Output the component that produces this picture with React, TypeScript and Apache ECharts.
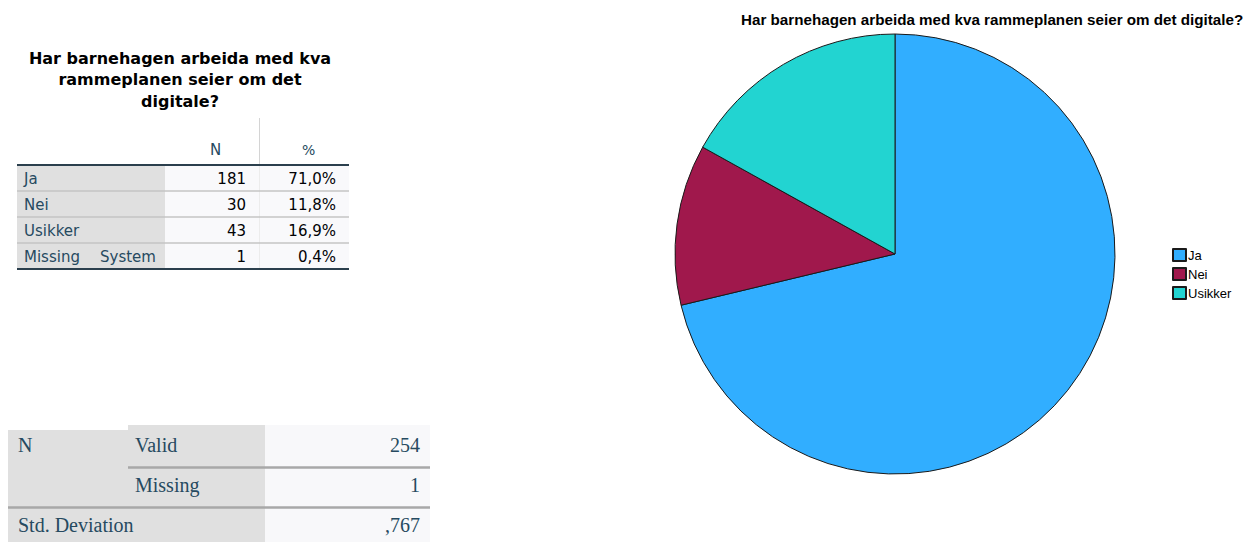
import React, { useEffect, useRef } from "react";
import * as echarts from "echarts";

// ---- data ----
const chartTitle = "Har barnehagen arbeida med kva rammeplanen seier om det digitale?";
const tableTitleLines = ["Har barnehagen arbeida med kva", "rammeplanen seier om det", "digitale?"];
const categories = ["Ja", "Nei", "Usikker"];
const counts = [181, 30, 43];
const percentLabels = ["71,0%", "11,8%", "16,9%"];
const missingLabel = ["Missing", "System"];
const missingCount = 1;
const missingPercent = "0,4%";
const headerLabels = ["N", "%"];
const statRowLabels = ["N", "Std. Deviation"];
const statSubLabels = ["Valid", "Missing"];
const statValues = ["254", "1", ",767"];
const sliceColors = ["#31aeff", "#a0184c", "#22d4d1"];

const LABEL = "#264a60";
const DATA = "#010205";
const SANS = "DejaVu Sans";
const SERIF = "Liberation Serif";

function txt(x: number, y: number, text: string, opts: any = {}) {
  return {
    type: "text",
    silent: true,
    x,
    y,
    style: {
      text,
      fontFamily: opts.fontFamily || SANS,
      fontSize: opts.fontSize || 15,
      fontWeight: opts.fontWeight || "normal",
      fill: opts.fill || LABEL,
      textAlign: opts.align || "left",
      textVerticalAlign: "middle",
    },
  };
}
function rect(x: number, y: number, w: number, h: number, fill: string) {
  return { type: "rect", silent: true, shape: { x, y, width: w, height: h }, style: { fill } };
}
function line(x1: number, y1: number, x2: number, y2: number, stroke: string, lw = 1) {
  return { type: "line", silent: true, shape: { x1, y1, x2, y2 }, style: { stroke, lineWidth: lw } };
}

function buildGraphics() {
  const g: any[] = [];
  // ---- frequency table ----
  tableTitleLines.forEach((t, i) =>
    g.push(txt(180, 58 + i * 21.5, t, { fontWeight: "bold", fontSize: 16, fill: "#000", align: "center" }))
  );
  const x0 = 17, xL = 165, xN = 259, xR = 349, top = 165, rh = 26;
  const rows = categories.map((c, i) => ({ a: c, b: "", n: String(counts[i]), p: percentLabels[i] }));
  rows.push({ a: missingLabel[0], b: missingLabel[1], n: String(missingCount), p: missingPercent });
  g.push(rect(x0, top, xL - x0, rh * rows.length, "#e0e0e0"));
  g.push(rect(xL, top, xR - xL, rh * rows.length, "#f9f9fb"));
  g.push(line(xN + 0.5, 118, xN + 0.5, top, "#d4d4d4", 1));
  g.push(line(xN + 0.5, top, xN + 0.5, top + rh * rows.length, "#ececec", 1));
  g.push(txt(210, 150, headerLabels[0], { fontSize: 15 }));
  g.push(txt(302, 150, headerLabels[1], { fontSize: 14 }));
  rows.forEach((r, i) => {
    const cy = top + rh * i + rh / 2 + 1;
    if (i > 0) g.push(line(x0, top + rh * i, xR, top + rh * i, "#c4c4c4", 1.5));
    g.push(txt(24, cy, r.a));
    if (r.b) g.push(txt(100, cy, r.b));
    g.push(txt(246, cy, r.n, { align: "right", fill: DATA }));
    g.push(txt(336, cy, r.p, { align: "right", fill: DATA }));
  });
  g.push(line(x0, top, xR, top, "#2b3f4d", 2));
  g.push(line(x0, top + rh * rows.length, xR, top + rh * rows.length, "#2b3f4d", 2));

  // ---- statistics table ----
  g.push(rect(8, 430, 257, 112, "#e0e0e0"));
  g.push(rect(128, 425, 137, 5, "#e0e0e0"));
  g.push(rect(265, 425, 165, 117, "#f8f8fa"));
  g.push(line(128, 467.5, 430, 467.5, "#a8a8a8", 2.5));
  g.push(line(8, 507.5, 430, 507.5, "#a8a8a8", 2.5));
  const sf = { fontFamily: SERIF, fontSize: 20 };
  g.push(txt(18, 444.5, statRowLabels[0], sf));
  g.push(txt(135, 444.5, statSubLabels[0], sf));
  g.push(txt(420, 444.5, statValues[0], { ...sf, align: "right" }));
  g.push(txt(135, 484.5, statSubLabels[1], sf));
  g.push(txt(420, 484.5, statValues[1], { ...sf, align: "right" }));
  g.push(txt(18, 524.5, statRowLabels[1], sf));
  g.push(txt(420, 524.5, statValues[2], { ...sf, align: "right" }));
  return g;
}

export default function App() {
  const ref = useRef<HTMLDivElement>(null);
  useEffect(() => {
    if (!ref.current) return;
    const chart = echarts.init(ref.current, undefined, { renderer: "svg" });
    chart.setOption({
      animation: false,
      backgroundColor: "#ffffff",
      title: {
        text: chartTitle,
        left: 741,
        top: 12,
        padding: 0,
        textStyle: { fontFamily: "Liberation Sans", fontSize: 15.2, fontWeight: "bold", color: "#000" },
      },
      legend: {
        orient: "vertical",
        left: 1172,
        top: 248,
        padding: 0,
        icon: "rect",
        itemWidth: 13,
        itemHeight: 12,
        itemGap: 5,
        data: categories,
        textStyle: { fontFamily: "Liberation Sans", fontSize: 13, color: "#000", padding: [0, 0, 0, -3] },
      },
      series: [
        {
          type: "pie",
          center: [895, 254],
          radius: 220,
          startAngle: 90,
          clockwise: true,
          label: { show: false },
          labelLine: { show: false },
          emphasis: { disabled: true },
          itemStyle: { borderColor: "#1a1a1a", borderWidth: 1 },
          data: categories.map((c, i) => ({ name: c, value: counts[i], itemStyle: { color: sliceColors[i] } })),
        },
      ],
      graphic: buildGraphics(),
    });
    return () => chart.dispose();
  }, []);
  return <div ref={ref} style={{ position: "fixed", left: 0, top: 0, width: 1247, height: 542 }} />;
}
